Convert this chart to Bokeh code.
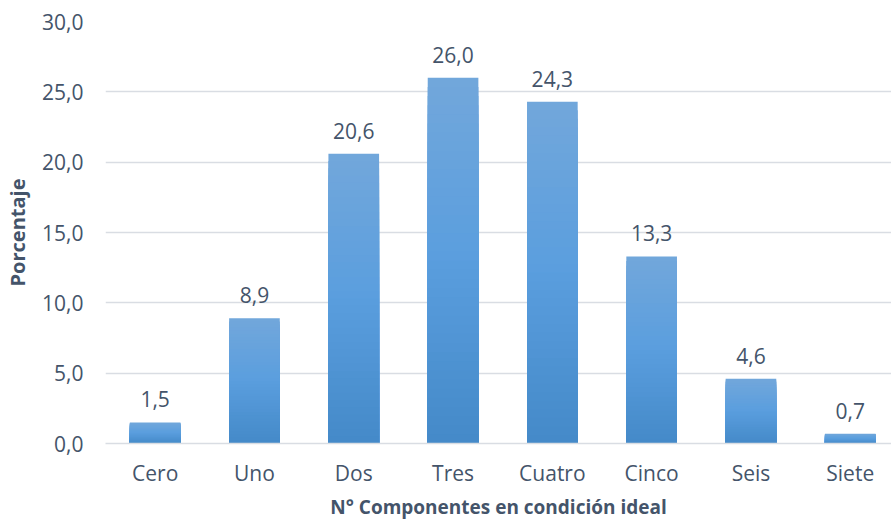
from bokeh.plotting import figure
from bokeh.models import ColumnDataSource, Range1d, FixedTicker, CustomJSTickFormatter
from bokeh.core.properties import value
from bokeh.embed import file_html
from bokeh.resources import INLINE

categories = ["Cero", "Uno", "Dos", "Tres", "Cuatro", "Cinco", "Seis", "Siete"]
percentages = [1.5, 8.9, 20.6, 26.0, 24.3, 13.3, 4.6, 0.7]
y_ticks = [0, 5, 10, 15, 20, 25, 30]
x_title = "N° Componentes en condición ideal"
y_title = "Porcentaje"

FONT = "Open Sans"
TEXT = "#44546A"
GRID = "#d9dde3"

# gradient stops (bottom -> top) approximating the Excel fill
stops = [(0.0, (68, 137, 200)), (0.5, (90, 158, 222)), (1.0, (114, 167, 219))]


def grad(t):
    for (t0, c0), (t1, c1) in zip(stops[:-1], stops[1:]):
        if t <= t1:
            f = (t - t0) / (t1 - t0)
            return "#%02x%02x%02x" % tuple(round(a + (b - a) * f) for a, b in zip(c0, c1))
    return "#%02x%02x%02x" % stops[-1][1]


xs = list(range(len(categories)))
N = 40
sx, st, sc = [], [], []
for k in range(N, 0, -1):
    for x, v in zip(xs, percentages):
        sx.append(x)
        st.append(v * k / N)
        sc.append(grad((k - 0.5) / N))

W, H = 891, 522
left, right, top, bottom = 105, 0, 21, 78
slot = 99.3
frame_w = W - left - right

p = figure(width=W, height=H, output_backend="svg", toolbar_location=None,
           x_range=Range1d(-0.5, -0.5 + frame_w / slot), y_range=Range1d(0, 30),
           min_border_left=left, min_border_right=right, min_border_top=top,
           min_border_bottom=bottom)
p.outline_line_color = None
p.background_fill_color = "white"
p.border_fill_color = "white"

src = ColumnDataSource(dict(x=sx, top=st, color=sc))
p.vbar(x="x", top="top", bottom=0, width=0.51, source=src,
       fill_color="color", line_color=None)

labels = ColumnDataSource(dict(x=xs, y=percentages,
                               t=[f"{v:.1f}".replace(".", ",") for v in percentages]))
p.text(x="x", y="y", text="t", source=labels, text_align="center",
       text_baseline="middle", y_offset=-23, text_font=value(FONT),
       text_font_size="21px", text_color=TEXT)

p.xgrid.visible = False
p.ygrid.grid_line_color = GRID
p.ygrid.grid_line_width = 1.5
p.ygrid.ticker = FixedTicker(ticks=y_ticks)

ya = p.yaxis[0]
ya.ticker = FixedTicker(ticks=y_ticks)
ya.formatter = CustomJSTickFormatter(code="return tick.toFixed(1).replace('.', ',');")
ya.axis_line_color = None
ya.major_tick_line_color = None
ya.minor_tick_line_color = None
ya.major_tick_out = 0
ya.major_label_standoff = 22
ya.major_label_text_font = FONT
ya.major_label_text_font_size = "21px"
ya.major_label_text_color = TEXT
ya.axis_label = y_title
ya.axis_label_text_font = FONT
ya.axis_label_text_font_style = "bold"
ya.axis_label_text_font_size = "20px"
ya.axis_label_text_color = TEXT
ya.axis_label_standoff = 8

xa = p.xaxis[0]
xa.ticker = FixedTicker(ticks=xs)
xa.major_label_overrides = {x: c for x, c in zip(xs, categories)}
xa.axis_line_color = GRID
xa.axis_line_width = 1.5
xa.major_tick_line_color = None
xa.minor_tick_line_color = None
xa.major_tick_out = 0
xa.major_label_standoff = 15
xa.major_label_text_font = FONT
xa.major_label_text_font_size = "21px"
xa.major_label_text_color = TEXT
xa.axis_label = x_title
xa.axis_label_text_font = FONT
xa.axis_label_text_font_style = "bold"
xa.axis_label_text_font_size = "19px"
xa.axis_label_text_color = TEXT
xa.axis_label_standoff = 4

open("out.html", "w").write(file_html(p, INLINE))
